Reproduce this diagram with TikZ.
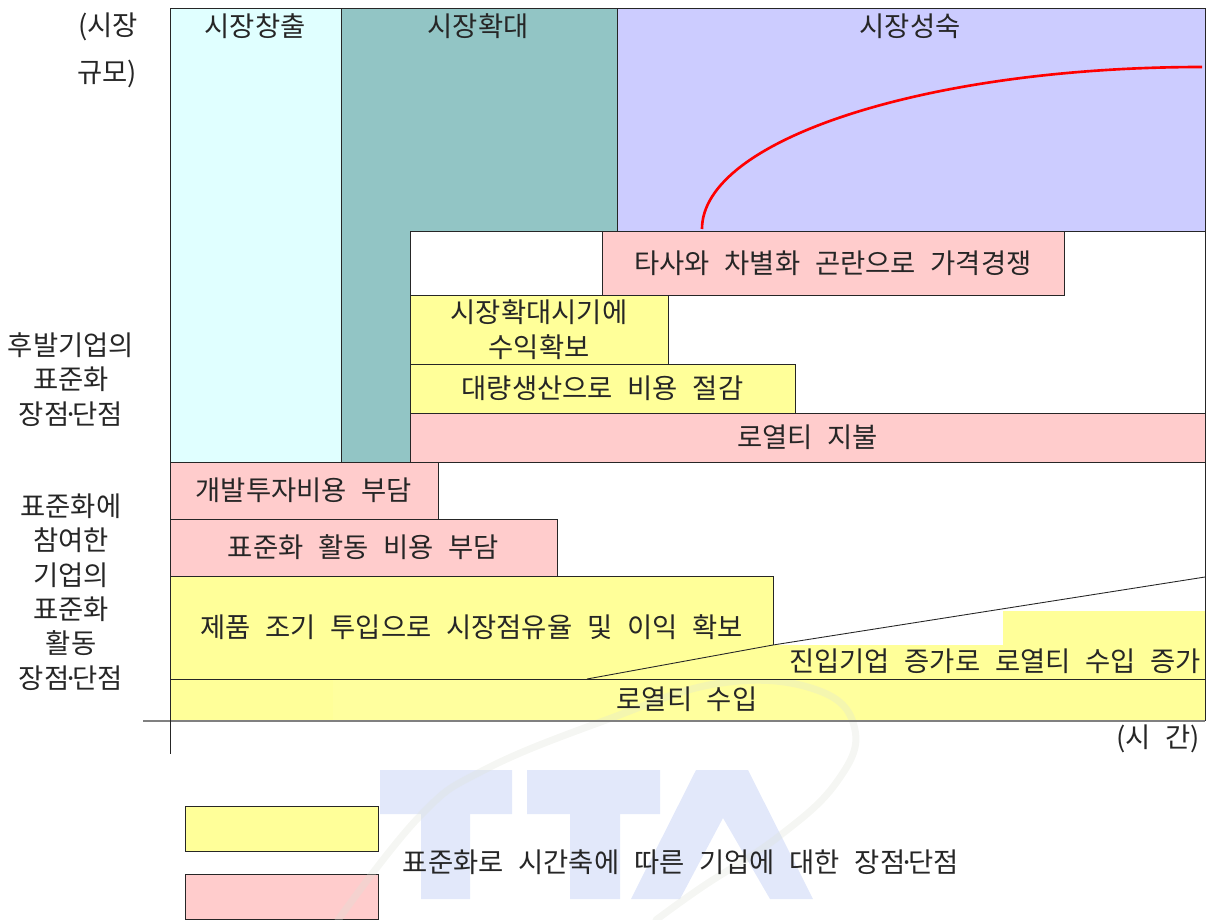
\documentclass[tikz,border=0pt]{standalone}
\usepackage{fontspec}
\setmainfont[WordSpace=2.4]{Noto Sans CJK KR}
\definecolor{stageone}{HTML}{E0FFFF}
\definecolor{stagetwo}{HTML}{92C5C5}
\definecolor{stagethree}{HTML}{CCCCFF}
\definecolor{gainyellow}{HTML}{FFFF99}
\definecolor{costpink}{HTML}{FFCCCC}
\definecolor{markblue}{HTML}{E2E8FA}
\definecolor{markgray}{HTML}{DDE2D8}
\newcommand{\shortdot}{\kern-.22em·\kern-.22em}
\begin{document}
\begin{tikzpicture}[x=.02cm,y=-.02cm,font=\fontsize{15.6}{19.6}\selectfont,text=black!85]
	
	% INPUTS
	
	\newcommand{\leftvar}{170}				% left side of the frame
	\newcommand{\rightvar}{1205}			% right side of the frame
	\newcommand{\axisvar}{721}				% height of the time axis
	
	% styles
	\tikzstyle{edge}=[line width=.5pt,draw=black!85];
	\tikzstyle{gain}=[style=edge,fill=gainyellow];
	\tikzstyle{cost}=[style=edge,fill=costpink];
	\tikzstyle{side}=[align=center];
	
	\useasboundingbox (0,0) rectangle (1211,920);
	
	% fills under the watermark
	\fill[gainyellow] (\leftvar,679) rectangle (\rightvar,\axisvar);
	\filldraw[style=gain] (185,806) rectangle (378,851);
	\filldraw[style=cost] (185,874) rectangle (378,919);
	
	% watermark
	\fill[white,opacity=.05] (333,680) rectangle (860,\axisvar);
	\fill[markblue] (380,770) -- (512,770) -- (512,814) -- (470,814) -- (470,899) -- (421,899) -- (421,814) -- (380,814) -- cycle;
	\fill[markblue] (527,770) -- (660,770) -- (660,814) -- (620,814) -- (620,899) -- (570,899) -- (570,814) -- (527,814) -- cycle;
	\fill[markblue] (696,770) -- (748,770) -- (813,899) -- (770,899) -- (723,818) -- (680,899) -- (631,899) -- cycle;
	\draw[markgray,line width=4pt,opacity=.3,line cap=round] plot[smooth,tension=.7] coordinates {(338,920) (419,817) (484,770) (606,720) (721,683) (817,690) (855,730) (836,783) (778,837) (702,887) (656,920)};
	
	% market stages
	\filldraw[style=edge,fill=stageone] (\leftvar,8) rectangle (341,462);
	\filldraw[style=edge,fill=stagetwo] (341,8) -- (617,8) -- (617,231) -- (410,231) -- (410,462) -- (341,462) -- cycle;
	\filldraw[style=edge,fill=stagethree] (617,8) rectangle (\rightvar,231);
	\draw[style=edge] (410,231) -- (\rightvar,231);
	
	% market curve
	\draw[red,line width=1.5pt] (702,229) .. controls (702,140) and (926,67) .. (1202,67);
	
	% late adopters
	\filldraw[style=cost] (602,231) rectangle (1064,295) node[pos=.5] (price) {타사와 차별화 곤란으로 가격경쟁};
	\filldraw[style=gain] (410,295) rectangle (668,364) node[pos=.5,align=center] (profit) {시장확대시기에\\수익확보};
	\filldraw[style=gain] (410,364) rectangle (795,413) node[pos=.5] (volume) {대량생산으로 비용 절감};
	\filldraw[style=cost] (410,413) rectangle (\rightvar,462) node[pos=.5] (paid) {로열티 지불};
	
	% participants
	\filldraw[style=cost] (\leftvar,462) rectangle (438,519) node[pos=.5] (invest) {개발투자비용 부담};
	\filldraw[style=cost] (\leftvar,519) rectangle (557,576) node[pos=.5] (activity) {표준화 활동 비용 부담};
	\filldraw[style=gain] (\leftvar,576) rectangle (773,679) node[pos=.5] (early) {제품 조기 투입으로 시장점유율 및 이익 확보};
	
	% royalty income, growing with the number of entrants
	\fill[gainyellow] (587,679) -- (773,645) -- (1003,645) -- (1003,611) -- (\rightvar,611) -- (\rightvar,679) -- cycle;
	\draw[style=edge] (587,679) -- (773,645) -- (\rightvar,577);
	\draw[style=edge] (\leftvar,679) -- (\rightvar,679);
	\draw[style=edge] (\rightvar,8) -- (\rightvar,\axisvar);
	\node (entrants) at (995,661.5) {진입기업 증가로 로열티 수입 증가};
	\node (income) at (687,699) {로열티 수입};
	
	% axes
	\draw[black!50,line width=.9pt] (143,\axisvar) -- (\rightvar,\axisvar);
	\draw[style=edge] (\leftvar,8) -- (\leftvar,754);
	\node (market) at (108,26.5) {(시장};
	\node (size) at (107,73.5) {규모)};
	\node (time) at (1158,738.5) {(시 간)};
	
	% stage names
	\node (create) at (255,26.5) {시장창출};
	\node (grow) at (478,26.5) {시장확대};
	\node (mature) at (910,26.5) {시장성숙};
	
	% side labels
	\node[style=side] (latelabel) at (71,379.5) {후발기업의\\표준화\\장점\shortdot 단점};
	\node[style=side] (joinlabel) at (71,592) {표준화에\\참여한\\기업의\\표준화\\활동\\장점\shortdot 단점};
	
	% legend text
	\node (legend) at (681,862.5) {표준화로 시간축에 따른 기업에 대한 장점\shortdot 단점};
	
\end{tikzpicture}
\end{document}
